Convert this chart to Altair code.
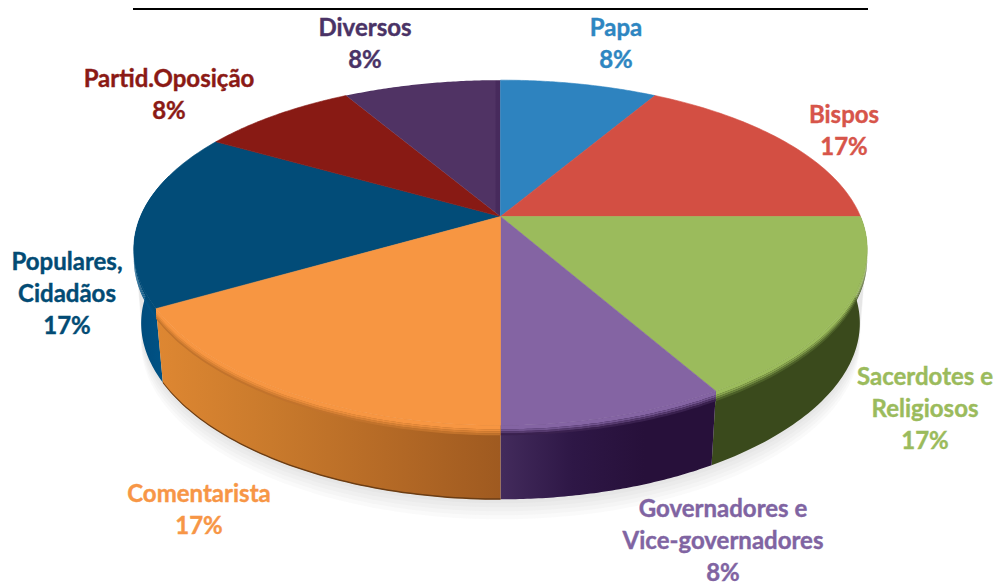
import math
import altair as alt
import pandas as pd

# ---- chart content
names = ["Papa", "Bispos", "Sacerdotes e Religiosos", "Governadores e Vice-governadores",
         "Comentarista", "Populares, Cidadãos", "Partid.Oposição", "Diversos"]
values = [8.33, 16.67, 16.67, 8.33, 16.67, 16.67, 8.33, 8.33]
top_colors = ["#2E83BF", "#D34F43", "#9BBB5C", "#8464A3", "#F79642", "#024C78", "#881A14", "#503364"]
text_colors = ["#2E86C1", "#D7554A", "#9BBB5C", "#8064A2", "#F79646", "#024B74", "#8B1A15", "#4A3366"]
label_lines = [["Papa", "8%"], ["Bispos", "17%"], ["Sacerdotes e", "Religiosos", "17%"],
               ["Governadores e", "Vice-governadores", "8%"], ["Comentarista", "17%"],
               ["Populares,", "Cidadãos", "17%"], ["Partid.Oposição", "8%"], ["Diversos", "8%"]]
label_x = [616, 844, 925, 723, 199, 67, 169, 365]
label_y = [29, 116, 378, 510, 495, 263, 80, 29]
line_step = 32
wall_stops = {
    2: ["#3A4A1C", "#3A4A1C"],
    3: ["#432B5C", "#2E1746", "#27103A", "#27103A"],
    4: ["#DE8732", "#C97A2C", "#B56A26", "#9F5A20"],
    5: ["#004A7A", "#00568A"],
}

# ---- tilted-disc projection of the pie
CX, CY = 500.5, 216.5
R, BX, A, BY = 360.0, 0.19, 165.0, 0.21
DEPTH, SHRINK = 74.0, 0.98


def rim(theta, drop=0.0, k=1.0):
    u, v = math.sin(theta), math.cos(theta)
    return (CX + k * R * u / (1 + BX * v), CY - A * v / (1 + BY * v) + drop)


def arc(a0, a1, drop=0.0, k=1.0, n=60):
    return [rim(a0 + (a1 - a0) * i / n, drop, k) for i in range(n + 1)]


W, H = 986, 579
xs = alt.Scale(domain=[8, 8 + W], range=[0, W], nice=False, zero=False)
ys = alt.Scale(domain=[8 + H, 8], range=[H, 0], nice=False, zero=False)


def poly(points, fill, opacity=1.0, stroke=None):
    df = pd.DataFrame(points, columns=["px", "py"])
    df["i"] = range(len(df))
    kw = dict(stroke=stroke, strokeWidth=0.6) if stroke else dict(strokeWidth=0)
    return alt.Chart(df).mark_line(interpolate="linear-closed", filled=True, fill=fill,
                                   opacity=opacity, **kw).encode(
        x=alt.X("px:Q", scale=xs, axis=None),
        y=alt.Y("py:Q", scale=ys, axis=None),
        order="i:Q",
    )


def hgrad(colors):
    n = len(colors) - 1
    return alt.Gradient(gradient="linear", x1=0, x2=1, y1=0, y2=0,
                        stops=[alt.GradientStop(offset=i / n, color=c) for i, c in enumerate(colors)])


def mix(c1, c2, t):
    a = [int(c1[i:i + 2], 16) for i in (1, 3, 5)]
    b = [int(c2[i:i + 2], 16) for i in (1, 3, 5)]
    return "#%02X%02X%02X" % tuple(round(p + (q - p) * t) for p, q in zip(a, b))


total = sum(values)
edges = [0.0]
for val in values:
    edges.append(edges[-1] + val / total * 2 * math.pi)

layers = []

# soft ground shadow
s0, s1 = math.radians(100), math.radians(262)
for d in (20, 16, 12, 8, 4):
    layers.append(poly(arc(s0, s1) + arc(s1, s0, DEPTH + d, SHRINK), "#808080", 0.045))

# side walls and bevel
for idx in (5, 2, 3, 4):
    a0, a1 = edges[idx], min(edges[idx + 1], math.radians(285))
    if a0 < math.pi / 2:
        a0 = math.pi / 2
    pts = arc(a0, a1) + arc(a1, a0, DEPTH, SHRINK)
    layers.append(poly(pts, hgrad(wall_stops[idx])))
    if idx == 4:
        layers.append(poly(arc(a0, a1, DEPTH - 1, SHRINK) + arc(a1, a0, DEPTH + 0.5, SHRINK), "#6B3D14"))
    base = top_colors[idx]
    low = wall_stops[idx][len(wall_stops[idx]) // 2]
    for d0, d1, t in [(0, 4, 0.0), (4, 6, 0.2), (6, 8, 0.5), (8, 10, 0.8)]:
        layers.append(poly(arc(a0, a1, d0) + arc(a1, a0, d1), mix(base, low, t)))

# top surface of every slice
for idx in [5, 6, 7, 0, 1, 2, 3, 4]:
    pts = [(CX, CY)] + arc(edges[idx], edges[idx + 1])
    fill = top_colors[idx]
    if idx == 7:
        fill = alt.Gradient(gradient="linear", x1=0, x2=1, y1=0, y2=0, stops=[
            alt.GradientStop(offset=0, color="#503364"),
            alt.GradientStop(offset=0.965, color="#503364"),
            alt.GradientStop(offset=0.97, color="#472A5C"),
            alt.GradientStop(offset=1, color="#472A5C"),
        ])
        layers.append(poly(pts, fill))
    else:
        layers.append(poly(pts, fill, stroke=fill))

# table rule at the top of the page
frame = pd.DataFrame({"x0": [133], "x1": [868], "y0": [9]})
layers.append(alt.Chart(frame).mark_rule(color="#000000", strokeWidth=2).encode(
    x=alt.X("x0:Q", scale=xs, axis=None), x2="x1:Q", y=alt.Y("y0:Q", scale=ys, axis=None)))

# labels
rows = []
for lines, lx, ly, col in zip(label_lines, label_x, label_y, text_colors):
    for n, line in enumerate(lines):
        rows.append({"t": line, "lx": lx, "ly": ly + n * line_step, "col": col})
labels = pd.DataFrame(rows)
layers.append(alt.Chart(labels).mark_text(font="Lato", fontWeight="bold", fontSize=24,
                                          align="center", baseline="middle",
                                          strokeWidth=0.4).encode(
    x=alt.X("lx:Q", scale=xs, axis=None),
    y=alt.Y("ly:Q", scale=ys, axis=None),
    text="t:N",
    color=alt.Color("col:N", scale=None),
    stroke=alt.Stroke("col:N", scale=None),
))

chart = alt.layer(*layers).properties(
    width=W, height=H, padding=0, autosize=alt.AutoSizeParams(type="none"),
    background="#FFFFFF",
).configure_view(stroke=None)

chart.save("out.html", embed_options={"renderer": "svg", "actions": False})
